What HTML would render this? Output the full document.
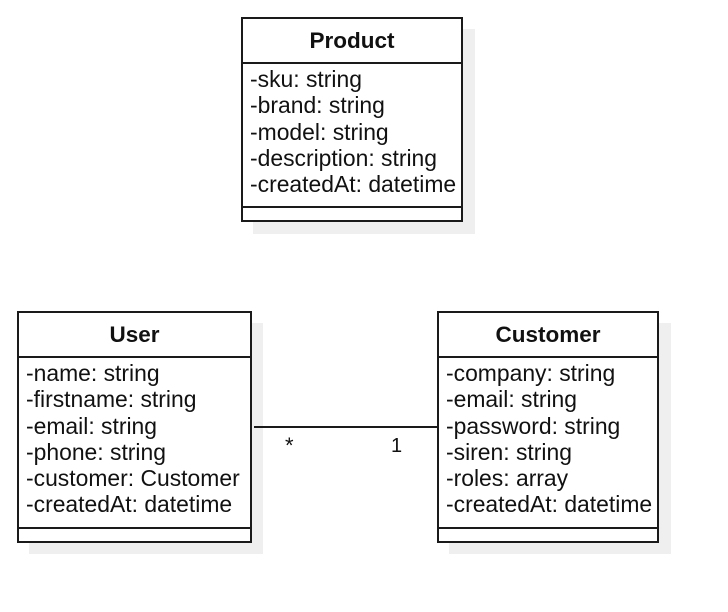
<!DOCTYPE html>
<html><head><meta charset="utf-8"><style>
body{margin:0;width:728px;height:612px;background:#fff;position:relative;overflow:hidden;font-family:"Liberation Sans",sans-serif;color:#111}
.sh{position:absolute;background:#efefef}
.box{position:absolute;border:2px solid #1a1a1a;background:#fff;box-sizing:border-box}
.hd{position:absolute;left:0;right:0;top:0;font-weight:bold;text-align:center;font-size:22.5px;border-bottom:2px solid #1a1a1a;box-sizing:border-box}
.at{position:absolute;left:7px;font-size:22.9px;line-height:26.3px;white-space:nowrap}
.ft{position:absolute;left:0;right:0;bottom:0;border-top:2px solid #1a1a1a;height:12px}
.t{position:absolute;font-size:20px}
</style></head><body>
<div class="sh" style="left:253px;top:29px;width:222px;height:205px"></div>
<div class="box" style="left:241px;top:17px;width:222px;height:205px">
 <div class="hd" style="height:45px;line-height:43px">Product</div>
 <div class="at" style="top:47px">-sku: string<br>-brand: string<br>-model: string<br>-description: string<br>-createdAt: datetime</div>
 <div class="ft" style="height:12px"></div>
</div>
<div class="sh" style="left:29px;top:323px;width:234px;height:231px"></div>
<div class="box" style="left:17px;top:311px;width:235px;height:232px">
 <div class="hd" style="height:45px;line-height:43px">User</div>
 <div class="at" style="top:47px">-name: string<br>-firstname: string<br>-email: string<br>-phone: string<br>-customer: Customer<br>-createdAt: datetime</div>
 <div class="ft"></div>
</div>
<div class="sh" style="left:449px;top:323px;width:222px;height:231px"></div>
<div class="box" style="left:437px;top:311px;width:222px;height:232px">
 <div class="hd" style="height:45px;line-height:43px">Customer</div>
 <div class="at" style="top:47px">-company: string<br>-email: string<br>-password: string<br>-siren: string<br>-roles: array<br>-createdAt: datetime</div>
 <div class="ft"></div>
</div>
<div style="position:absolute;left:254px;top:426px;width:183px;height:2px;background:#1a1a1a"></div>
<div class="t" style="left:285px;top:433px;font-size:22px">*</div>
<div class="t" style="left:391px;top:435px">1</div>
</body></html>
